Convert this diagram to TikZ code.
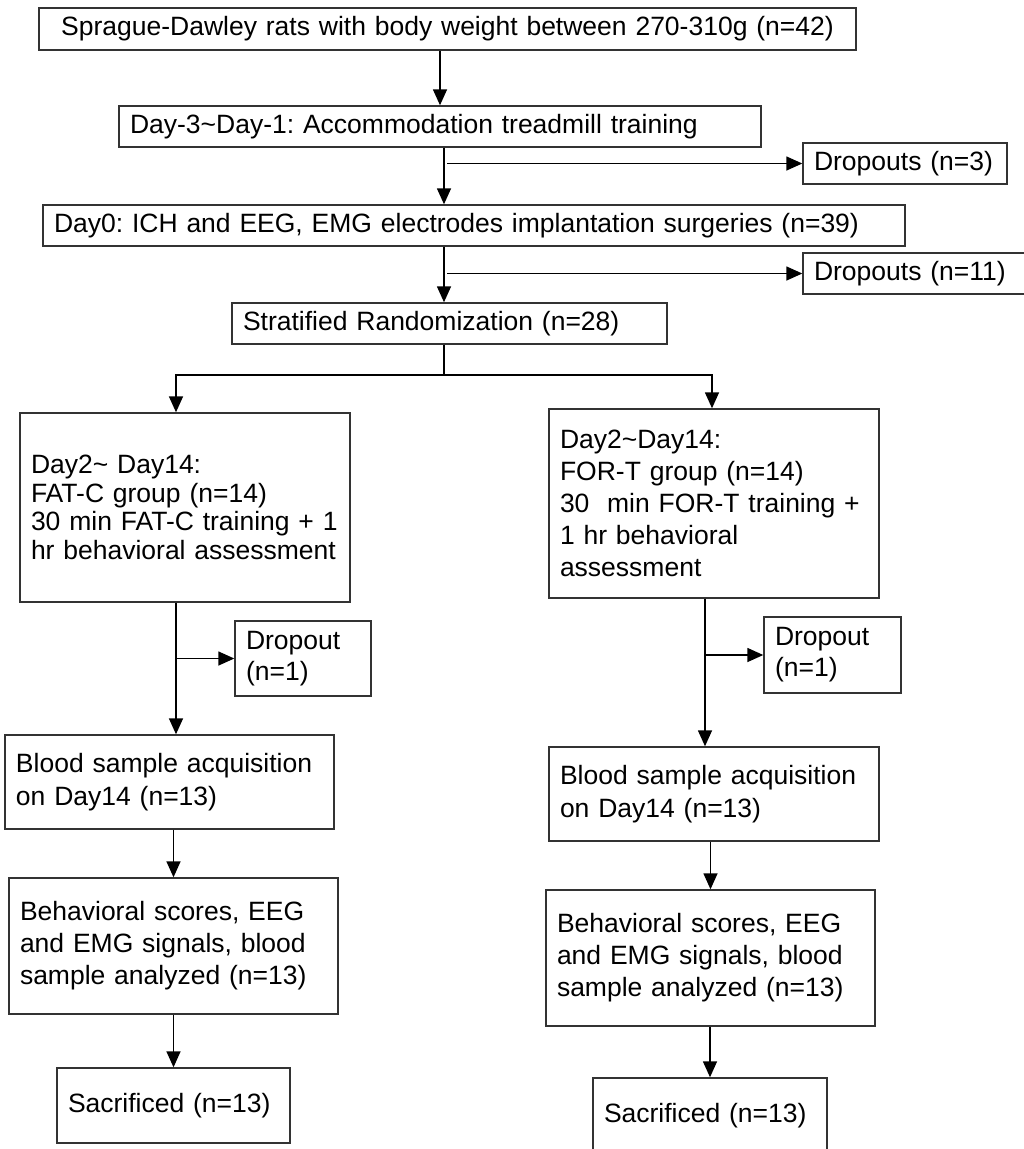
\documentclass[tikz,border=0pt]{standalone}
\usepackage{fontspec}
\setmainfont{Liberation Sans}
\usetikzlibrary{arrows.meta,positioning}
\newcommand{\tld}{\textasciitilde}
\frenchspacing

\begin{document}
\begin{tikzpicture}[x=1pt,y=-1pt,
  box/.style={draw=black!80,line width=1.4pt,align=left,inner xsep=11pt,inner ysep=0pt,font=\fontsize{26.5}{32}\selectfont},
  arr/.style={line width=1.5pt,-{Triangle[length=16pt,width=14pt]}},
  ln/.style={line width=1.5pt}]
\useasboundingbox (0,0) rectangle (1024,1149);
% main column
\node[box,align=center,text width=795pt,minimum height=42pt] (rats) at (447.5,29) {Sprague-Dawley rats with body weight between 270-310g (n=42)};
\node[box,text width=620pt,minimum height=41pt] (accom) at (440,126.5) {Day-3\tld{}Day-1: Accommodation treadmill training};
\node[box,text width=182pt,minimum height=41pt] (drop1) at (905,163.5) {Dropouts (n=3)};
\node[box,text width=840pt,minimum height=41pt] (surg) at (474,225.5) {Day0: ICH and EEG, EMG electrodes implantation surgeries (n=39)};
\node[box,text width=205pt,minimum height=41pt] (drop2) at (916.5,273.5) {Dropouts (n=11)};
\node[box,text width=413pt,minimum height=41pt] (rand) at (449.5,323.5) {Stratified Randomization (n=28)};
% FAT-C column
\node[box,font=\fontsize{26.5}{28.5}\selectfont,text width=308pt,minimum height=189pt] (fatc) at (185,507.5) {Day2\tld{} Day14:\\FAT-C group (n=14)\\30 min FAT-C training + 1\\hr behavioral assessment};
\node[box,font=\fontsize{26.5}{31}\selectfont,text width=114pt,minimum height=75pt] (dropc) at (303,658.5) {Dropout\\(n=1)};
\node[box,font=\fontsize{26.5}{33}\selectfont,text width=307pt,minimum height=94pt] (bloodc) at (169.5,782) {Blood sample acquisition\\on Day14 (n=13)};
\node[box,text width=307pt,minimum height=136pt] (scorec) at (173.5,946) {Behavioral scores, EEG\\and EMG signals, blood\\sample analyzed (n=13)};
\node[box,text width=211pt,minimum height=75pt] (sacc) at (173.5,1105.5) {Sacrificed (n=13)};
% FOR-T column
\node[box,text width=308pt,minimum height=189pt] (fort) at (714,503.5) {Day2\tld{}Day14:\\FOR-T group (n=14)\\30\ \ min FOR-T training +\\1 hr behavioral\\assessment};
\node[box,font=\fontsize{26.5}{31}\selectfont,text width=115pt,minimum height=76pt] (dropt) at (832.5,655) {Dropout\\(n=1)};
\node[box,font=\fontsize{26.5}{33}\selectfont,text width=308pt,minimum height=94pt] (bloodt) at (714,794) {Blood sample acquisition\\on Day14 (n=13)};
\node[box,text width=307pt,minimum height=136pt] (scoret) at (710.5,958) {Behavioral scores, EEG\\and EMG signals, blood\\sample analyzed (n=13)};
\node[box,text width=212pt,minimum height=75pt] (sact) at (710,1115.5) {Sacrificed (n=13)};

\coordinate (spine) at (444,0);
\coordinate (side) at (447,0);
\coordinate (split) at (444,375);
\coordinate (cl) at (176,0);
\coordinate (cr) at (705,0);
\coordinate (crs) at (712,0);

\draw[arr] (rats.south -| accom.north) -- (accom.north);
\draw[arr] (accom.south -| spine) -- (surg.north -| spine);
\draw[arr] (drop1.west -| side) -- (drop1.west);
\draw[arr] (surg.south -| spine) -- (rand.north -| spine);
\draw[arr] (drop2.west -| side) -- (drop2.west);
\draw[ln] (rand.south -| split) -- (split);
\draw[arr] (split) -| (fatc.north -| cl);
\draw[arr] (split) -| (fort.north -| crs);
% left branch
\draw[arr] (fatc.south -| cl) -- (bloodc.north -| cl);
\draw[arr] (dropc.west -| cl) -- (dropc.west);
\draw[arr] (bloodc.south -| scorec.north) -- (scorec.north);
\draw[arr] (scorec.south) -- (scorec.south |- sacc.north);
% right branch
\draw[arr] (fort.south -| cr) -- (bloodt.north -| cr);
\draw[arr] (dropt.west -| cr) -- (dropt.west);
\draw[arr] (bloodt.south -| scoret.north) -- (scoret.north);
\draw[arr] (scoret.south -| sact.north) -- (sact.north);
\end{tikzpicture}
\end{document}
